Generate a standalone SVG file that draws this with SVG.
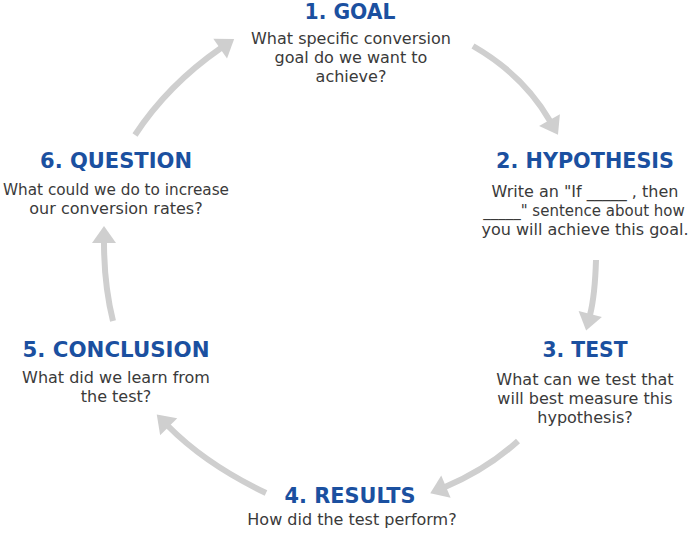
<svg xmlns="http://www.w3.org/2000/svg" width="693" height="533" viewBox="0 0 693 533">
<style>
.t{font-family:"DejaVu Sans","Liberation Sans",sans-serif;font-weight:bold;font-size:21px;fill:#1b50a0;text-anchor:middle}
.b{font-family:"DejaVu Sans","Liberation Sans",sans-serif;font-size:16px;fill:#3a3a3a;text-anchor:middle}
.a{fill:none;stroke:#cfcfcf;stroke-width:6;marker-end:url(#h)}
</style>
<defs>
<marker id="h" markerUnits="userSpaceOnUse" markerWidth="18" markerHeight="24" refX="1" refY="12" orient="auto" overflow="visible">
<path d="M0,0 L17,12 L0,24 z" fill="#cfcfcf"/>
</marker>
</defs>
<rect width="693" height="533" fill="#ffffff"/>
<g id="connectors">
<path class="a" d="M473,46 Q523.6,75.1 550,121"/>
<path class="a" d="M596,260 Q595,295 590,315"/>
<path class="a" d="M518,441 Q486.8,469.3 445,487"/>
<path class="a" d="M266,493 Q205.7,464.2 168,426"/>
<path class="a" d="M113,321 Q104,285 104,242"/>
<path class="a" d="M135,135 Q167.7,85 221,48"/>
</g>
<g id="goal">
<text class="t" x="350" y="19" textLength="91" lengthAdjust="spacingAndGlyphs">1. GOAL</text>
<text class="b" x="351" y="44">What specific conversion</text>
<text class="b" x="351" y="63">goal do we want to</text>
<text class="b" x="351" y="82">achieve?</text>
</g>
<g id="hypothesis">
<text class="t" x="585" y="168" textLength="178" lengthAdjust="spacingAndGlyphs">2. HYPOTHESIS</text>
<text class="b" x="585" y="197">Write an "If _____ , then</text>
<text class="b" x="584" y="216" style="font-size:15px">_____" sentence about how</text>
<text class="b" x="585" y="235">you will achieve this goal.</text>
</g>
<g id="test">
<text class="t" x="585" y="357" textLength="85" lengthAdjust="spacingAndGlyphs">3. TEST</text>
<text class="b" x="585" y="385">What can we test that</text>
<text class="b" x="585" y="404">will best measure this</text>
<text class="b" x="585" y="423">hypothesis?</text>
</g>
<g id="results">
<text class="t" x="350" y="503" textLength="131" lengthAdjust="spacingAndGlyphs">4. RESULTS</text>
<text class="b" x="352" y="525">How did the test perform?</text>
</g>
<g id="conclusion">
<text class="t" x="116" y="357" textLength="187" lengthAdjust="spacingAndGlyphs">5. CONCLUSION</text>
<text class="b" x="116" y="383">What did we learn from</text>
<text class="b" x="116" y="402">the test?</text>
</g>
<g id="question">
<text class="t" x="116" y="168" textLength="152" lengthAdjust="spacingAndGlyphs">6. QUESTION</text>
<text class="b" x="116" y="195" textLength="226" lengthAdjust="spacingAndGlyphs">What could we do to increase</text>
<text class="b" x="116" y="214">our conversion rates?</text>
</g>
</svg>
